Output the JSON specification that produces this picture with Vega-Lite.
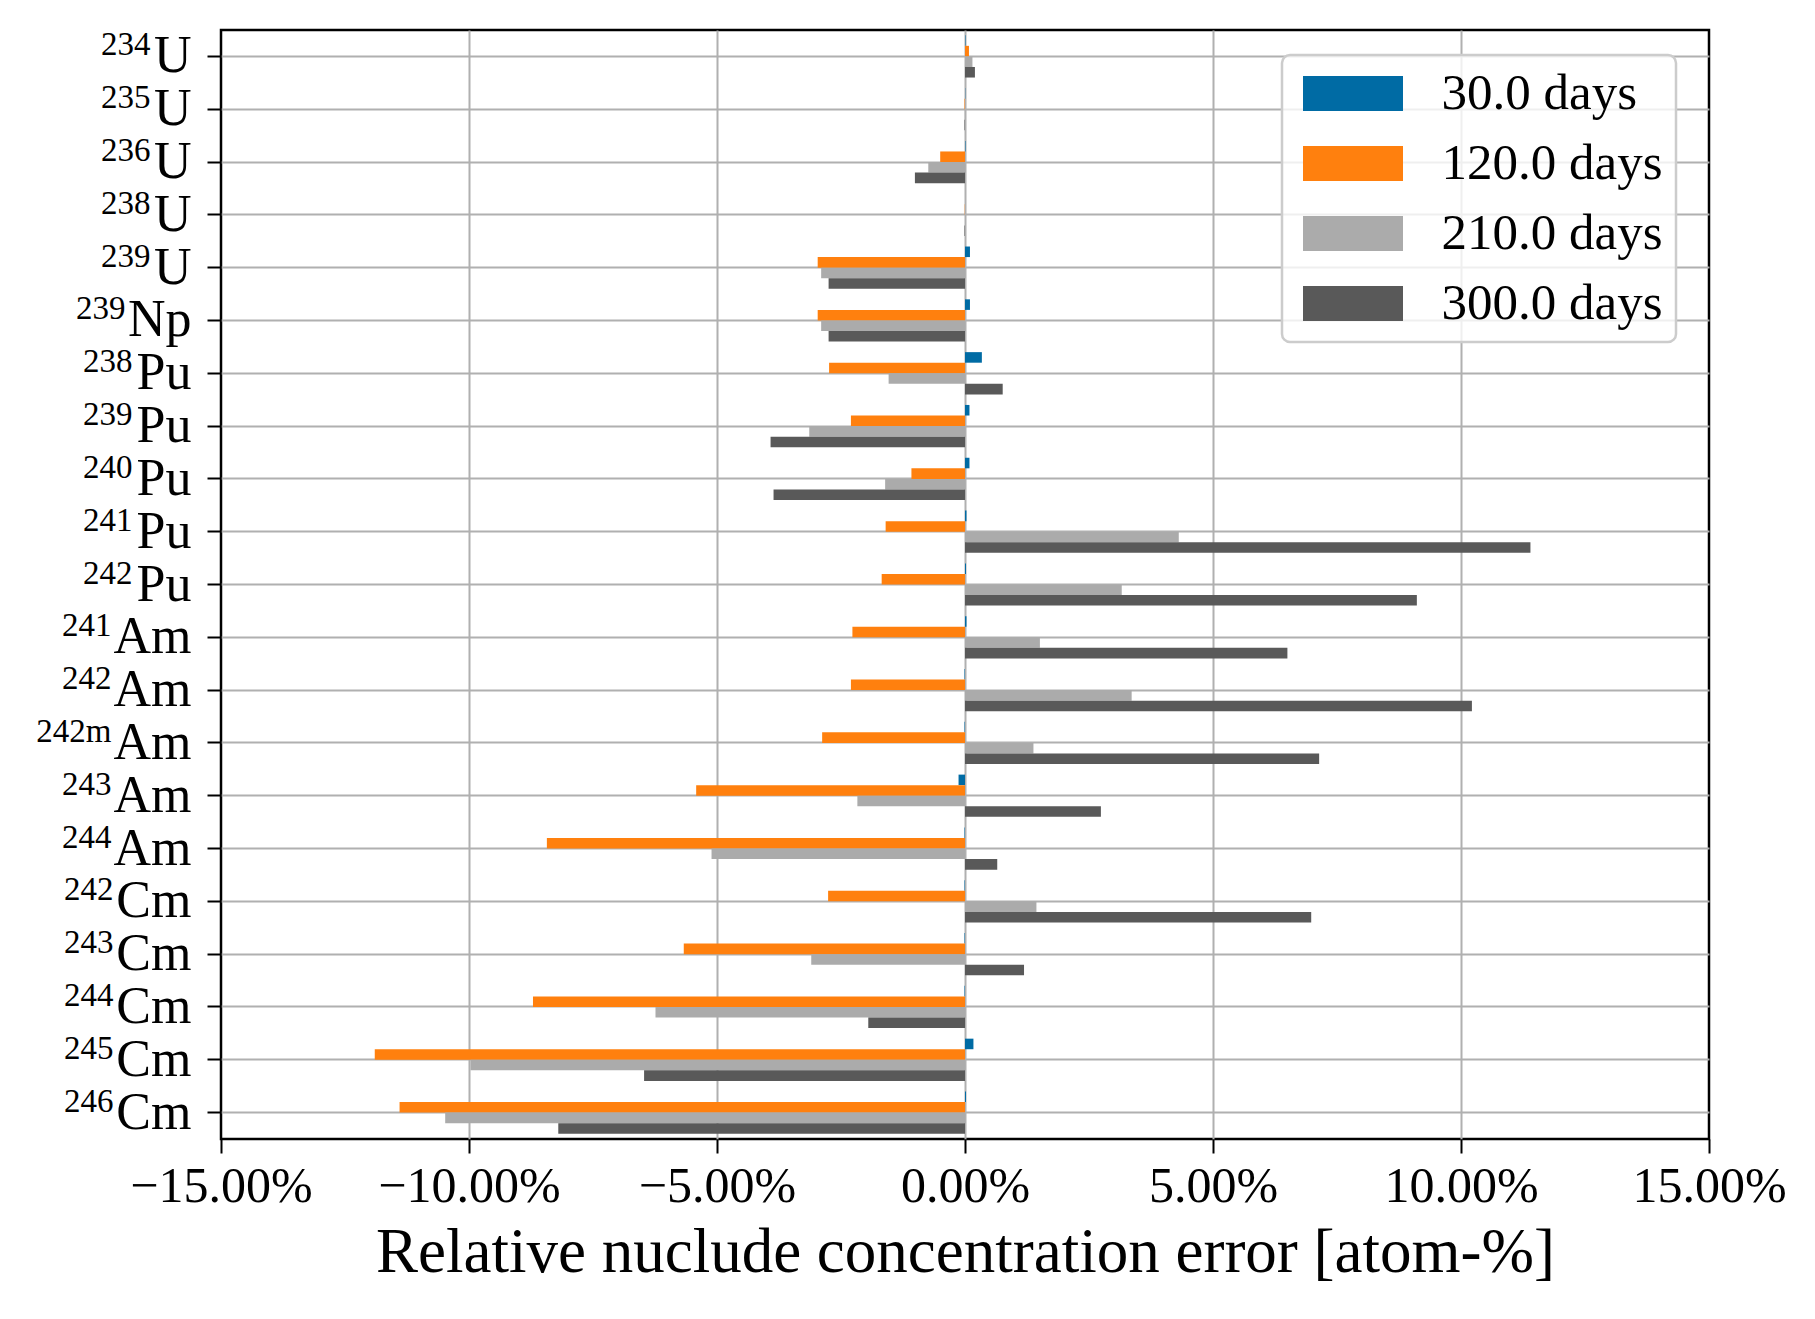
{
  "$schema": "https://vega.github.io/schema/vega-lite/v6.json",
  "width": 1488,
  "height": 1109,
  "autosize": {"type": "none"},
  "padding": {"left": 221, "top": 30, "right": 106, "bottom": 180},
  "background": "white",
  "config": {
    "font": "Liberation Serif",
    "view": {"stroke": "#000000", "strokeWidth": 2.5},
    "axis": {
      "domain": false,
      "tickColor": "#000000",
      "tickWidth": 2,
      "tickSize": 14,
      "gridColor": "#b0b0b0",
      "gridWidth": 2,
      "labelColor": "#000000",
      "titleColor": "#000000",
      "titleFontWeight": "normal",
      "zindex": 1
    },
    "legend": {
      "orient": "none",
      "legendX": 1061,
      "legendY": 25,
      "padding": 13,
      "strokeColor": "#cccccc",
      "strokeWidth": 2.5,
      "cornerRadius": 8,
      "fillColor": "rgba(255,255,255,0.8)",
      "symbolType": "M-2.857,-1H2.857V1H-2.857Z",
      "symbolSize": 1225,
      "symbolOffset": 32.5,
      "symbolStrokeWidth": 0,
      "symbolOpacity": 1,
      "labelFontSize": 51,
      "labelColor": "#000000",
      "labelOffset": 63,
      "rowPadding": 18,
      "labelLimit": 400
    }
  },
  "data": {
    "values": [
      {"n": "234U", "t": "30.0 days", "v": 0.01}, {"n": "234U", "t": "120.0 days", "v": 0.08}, {"n": "234U", "t": "210.0 days", "v": 0.15}, {"n": "234U", "t": "300.0 days", "v": 0.2},
      {"n": "235U", "t": "30.0 days", "v": 0.005}, {"n": "235U", "t": "120.0 days", "v": -0.01}, {"n": "235U", "t": "210.0 days", "v": -0.005}, {"n": "235U", "t": "300.0 days", "v": -0.01},
      {"n": "236U", "t": "30.0 days", "v": 0.01}, {"n": "236U", "t": "120.0 days", "v": -0.5}, {"n": "236U", "t": "210.0 days", "v": -0.74}, {"n": "236U", "t": "300.0 days", "v": -1.01},
      {"n": "238U", "t": "30.0 days", "v": 0.0}, {"n": "238U", "t": "120.0 days", "v": -0.005}, {"n": "238U", "t": "210.0 days", "v": 0.0}, {"n": "238U", "t": "300.0 days", "v": -0.01},
      {"n": "239U", "t": "30.0 days", "v": 0.1}, {"n": "239U", "t": "120.0 days", "v": -2.97}, {"n": "239U", "t": "210.0 days", "v": -2.9}, {"n": "239U", "t": "300.0 days", "v": -2.75},
      {"n": "239Np", "t": "30.0 days", "v": 0.1}, {"n": "239Np", "t": "120.0 days", "v": -2.97}, {"n": "239Np", "t": "210.0 days", "v": -2.9}, {"n": "239Np", "t": "300.0 days", "v": -2.75},
      {"n": "238Pu", "t": "30.0 days", "v": 0.34}, {"n": "238Pu", "t": "120.0 days", "v": -2.74}, {"n": "238Pu", "t": "210.0 days", "v": -1.54}, {"n": "238Pu", "t": "300.0 days", "v": 0.76},
      {"n": "239Pu", "t": "30.0 days", "v": 0.09}, {"n": "239Pu", "t": "120.0 days", "v": -2.3}, {"n": "239Pu", "t": "210.0 days", "v": -3.14}, {"n": "239Pu", "t": "300.0 days", "v": -3.92},
      {"n": "240Pu", "t": "30.0 days", "v": 0.09}, {"n": "240Pu", "t": "120.0 days", "v": -1.08}, {"n": "240Pu", "t": "210.0 days", "v": -1.61}, {"n": "240Pu", "t": "300.0 days", "v": -3.86},
      {"n": "241Pu", "t": "30.0 days", "v": 0.03}, {"n": "241Pu", "t": "120.0 days", "v": -1.6}, {"n": "241Pu", "t": "210.0 days", "v": 4.31}, {"n": "241Pu", "t": "300.0 days", "v": 11.4},
      {"n": "242Pu", "t": "30.0 days", "v": 0.02}, {"n": "242Pu", "t": "120.0 days", "v": -1.68}, {"n": "242Pu", "t": "210.0 days", "v": 3.16}, {"n": "242Pu", "t": "300.0 days", "v": 9.11},
      {"n": "241Am", "t": "30.0 days", "v": 0.03}, {"n": "241Am", "t": "120.0 days", "v": -2.27}, {"n": "241Am", "t": "210.0 days", "v": 1.51}, {"n": "241Am", "t": "300.0 days", "v": 6.5},
      {"n": "242Am", "t": "30.0 days", "v": -0.01}, {"n": "242Am", "t": "120.0 days", "v": -2.3}, {"n": "242Am", "t": "210.0 days", "v": 3.36}, {"n": "242Am", "t": "300.0 days", "v": 10.22},
      {"n": "242mAm", "t": "30.0 days", "v": -0.01}, {"n": "242mAm", "t": "120.0 days", "v": -2.88}, {"n": "242mAm", "t": "210.0 days", "v": 1.38}, {"n": "242mAm", "t": "300.0 days", "v": 7.14},
      {"n": "243Am", "t": "30.0 days", "v": -0.13}, {"n": "243Am", "t": "120.0 days", "v": -5.42}, {"n": "243Am", "t": "210.0 days", "v": -2.17}, {"n": "243Am", "t": "300.0 days", "v": 2.74},
      {"n": "244Am", "t": "30.0 days", "v": -0.01}, {"n": "244Am", "t": "120.0 days", "v": -8.43}, {"n": "244Am", "t": "210.0 days", "v": -5.11}, {"n": "244Am", "t": "300.0 days", "v": 0.65},
      {"n": "242Cm", "t": "30.0 days", "v": -0.01}, {"n": "242Cm", "t": "120.0 days", "v": -2.76}, {"n": "242Cm", "t": "210.0 days", "v": 1.44}, {"n": "242Cm", "t": "300.0 days", "v": 6.98},
      {"n": "243Cm", "t": "30.0 days", "v": -0.01}, {"n": "243Cm", "t": "120.0 days", "v": -5.67}, {"n": "243Cm", "t": "210.0 days", "v": -3.1}, {"n": "243Cm", "t": "300.0 days", "v": 1.19},
      {"n": "244Cm", "t": "30.0 days", "v": -0.01}, {"n": "244Cm", "t": "120.0 days", "v": -8.71}, {"n": "244Cm", "t": "210.0 days", "v": -6.24}, {"n": "244Cm", "t": "300.0 days", "v": -1.95},
      {"n": "245Cm", "t": "30.0 days", "v": 0.17}, {"n": "245Cm", "t": "120.0 days", "v": -11.9}, {"n": "245Cm", "t": "210.0 days", "v": -9.97}, {"n": "245Cm", "t": "300.0 days", "v": -6.47},
      {"n": "246Cm", "t": "30.0 days", "v": 0.02}, {"n": "246Cm", "t": "120.0 days", "v": -11.4}, {"n": "246Cm", "t": "210.0 days", "v": -10.48}, {"n": "246Cm", "t": "300.0 days", "v": -8.2}
    ]
  },
  "encoding": {
    "x": {
      "field": "v",
      "type": "quantitative",
      "scale": {"domain": [-15, 15], "nice": false, "zero": false},
      "axis": {
        "title": "Relative nuclude concentration error [atom-%]",
        "values": [-15, -10, -5, 0, 5, 10, 15],
        "labelExpr": "replace(format(datum.value, '.2f'), '-', '−') + '%'",
        "labelFontSize": 50,
        "labelPadding": 8,
        "labelLimit": 400,
        "labelFlush": false,
        "labelOverlap": false,
        "titleFontSize": 63,
        "titlePadding": 10,
        "grid": true,
        "gridOpacity": {"condition": {"test": "abs(datum.value) == 15", "value": 0}, "value": 1}
      }
    }
  },
  "layer": [
    {
      "mark": {"type": "bar", "orient": "horizontal"},
      "encoding": {
        "y": {
          "field": "n",
          "type": "nominal",
          "sort": ["234U", "235U", "236U", "238U", "239U", "239Np", "238Pu", "239Pu", "240Pu", "241Pu", "242Pu", "241Am", "242Am", "242mAm", "243Am", "244Am", "242Cm", "243Cm", "244Cm", "245Cm", "246Cm"],
          "scale": {"paddingInner": 0, "paddingOuter": 0},
          "axis": {
            "title": null,
            "grid": true,
            "bandPosition": 0.5,
            "labelExpr": "replace(datum.value, regexp('^[0-9]+m?'), '')",
            "labelFontSize": 52,
            "labelPadding": 16,
            "labelLimit": 300
          }
        },
        "yOffset": {
          "field": "t",
          "type": "nominal",
          "sort": ["30.0 days", "120.0 days", "210.0 days", "300.0 days"],
          "scale": {"paddingInner": 0, "paddingOuter": 0.5}
        },
        "color": {
          "field": "t",
          "type": "nominal",
          "sort": ["30.0 days", "120.0 days", "210.0 days", "300.0 days"],
          "scale": {
            "domain": ["30.0 days", "120.0 days", "210.0 days", "300.0 days"],
            "range": ["#006BA4", "#FF800E", "#ABABAB", "#595959"]
          },
          "legend": {"title": null}
        }
      }
    },
    {
      "mark": {"type": "bar", "orient": "horizontal", "opacity": 0},
      "encoding": {
        "y": {
          "field": "n",
          "type": "nominal",
          "sort": ["234U", "235U", "236U", "238U", "239U", "239Np", "238Pu", "239Pu", "240Pu", "241Pu", "242Pu", "241Am", "242Am", "242mAm", "243Am", "244Am", "242Cm", "243Cm", "244Cm", "245Cm", "246Cm"],
          "scale": {"paddingInner": 0, "paddingOuter": 0},
          "axis": {
            "orient": "left",
            "title": null,
            "grid": false,
            "ticks": false,
            "bandPosition": 0.5,
            "labelExpr": "replace(datum.value, regexp('[A-Z][a-z]?$'), '')",
            "labelFontSize": 33,
            "labelOffset": -11,
            "labelLimit": 300,
            "labelPadding": {
              "condition": [
                {"test": "test(regexp('Np$'), datum.value)", "value": 96},
                {"test": "test(regexp('Pu$'), datum.value)", "value": 89},
                {"test": "test(regexp('Am$'), datum.value)", "value": 110},
                {"test": "test(regexp('Cm$'), datum.value)", "value": 108}
              ],
              "value": 71
            }
          }
        }
      }
    }
  ],
  "resolve": {"axis": {"y": "independent"}}
}
